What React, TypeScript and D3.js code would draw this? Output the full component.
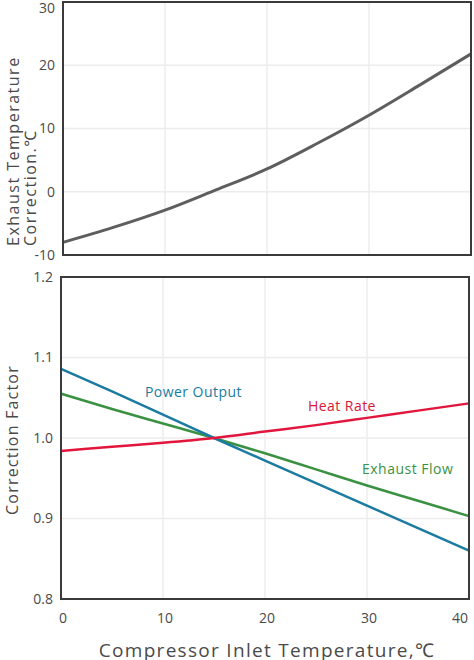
import React from "react";
import * as d3 from "d3";

const temps = [0, 5, 10, 15, 20, 25, 30, 35, 40];
const exhaustTempCorr = [-8.0, -5.6, -2.9, 0.3, 3.6, 7.7, 12.1, 16.9, 21.8];
const powerOutput = [1.086, 1.058, 1.029, 1.0, 0.972, 0.944, 0.916, 0.888, 0.86];
const exhaustFlow = [1.055, 1.036, 1.018, 1.0, 0.981, 0.961, 0.941, 0.922, 0.903];
const heatRate = [0.984, 0.989, 0.994, 1.0, 1.008, 1.016, 1.025, 1.034, 1.043];

const xTicks = [0, 10, 20, 30, 40];
const topYTicks = [-10, 0, 10, 20, 30];
const botYTicks = [0.8, 0.9, 1.0, 1.1, 1.2];

const FONT = "'Open Sans', 'Noto Sans', 'Noto Sans CJK JP', sans-serif";
const TXT = "#4a4a4a";
const GRID = "#ececec";
const BORDER = "#3a3a3a";

export default function App() {
  const xTop = d3.scaleLinear().domain([0, 40]).range([63, 471]);
  const yTop = d3.scaleLinear().domain([-10, 30]).range([255, 2]);
  const xBot = d3.scaleLinear().domain([0, 40]).range([61, 469]);
  const yBot = d3.scaleLinear().domain([0.8, 1.2]).range([599, 277]);

  const lineTop = d3
    .line<number>()
    .x((_, i) => xTop(temps[i]))
    .y((d) => yTop(d))
    .curve(d3.curveMonotoneX);
  const lineBot = d3
    .line<number>()
    .x((_, i) => xBot(temps[i]))
    .y((d) => yBot(d))
    .curve(d3.curveMonotoneX);

  const series = [
    { vals: exhaustFlow, color: "#3b9142" },
    { vals: powerOutput, color: "#1b7ba1" },
    { vals: heatRate, color: "#e2163c" },
  ];

  return (
    <svg
      width={474}
      height={660}
      style={{ position: "absolute", left: 0, top: 0, fontFamily: FONT }}
    >
      <rect width={474} height={660} fill="#fff" />
      {/* Top chart grid */}
      {[10, 20, 30].map((t) => (
        <line key={"tv" + t} x1={xTop(t)} x2={xTop(t)} y1={yTop(30)} y2={yTop(-10)} stroke={GRID} strokeWidth={1.5} />
      ))}
      {[0, 10, 20].map((t) => (
        <line key={"th" + t} x1={xTop(0)} x2={xTop(40)} y1={yTop(t)} y2={yTop(t)} stroke={GRID} strokeWidth={1.5} />
      ))}
      <path d={lineTop(exhaustTempCorr) || ""} fill="none" stroke="#5e5e5e" strokeWidth={3} />
      <rect x={xTop(0)} y={yTop(30)} width={xTop(40) - xTop(0)} height={yTop(-10) - yTop(30)} fill="none" stroke={BORDER} strokeWidth={2} />
      {topYTicks.map((t) => (
        <text key={"tyl" + t} x={55} y={t === 30 ? yTop(t) + 6 : yTop(t)} dy="0.35em" textAnchor="end" fontSize={14} fill={TXT}>
          {t}
        </text>
      ))}
      <text transform={`translate(13,246) rotate(-90)`} fontSize={16} fill={TXT} textAnchor="start" dy="0.35em" letterSpacing={1.5}>
        Exhaust Temperature
      </text>
      <text transform={`translate(30,246) rotate(-90)`} fontSize={16} fill={TXT} textAnchor="start" dy="0.35em" letterSpacing={1.5}>
        Correction.℃
      </text>

      {/* Bottom chart grid */}
      {[10, 20, 30].map((t) => (
        <line key={"bv" + t} x1={xBot(t)} x2={xBot(t)} y1={yBot(1.2)} y2={yBot(0.8)} stroke={GRID} strokeWidth={1.5} />
      ))}
      {[0.9, 1.0, 1.1].map((t) => (
        <line key={"bh" + t} x1={xBot(0)} x2={xBot(40)} y1={yBot(t)} y2={yBot(t)} stroke={GRID} strokeWidth={1.5} />
      ))}
      {series.map((s, i) => (
        <path key={"s" + i} d={lineBot(s.vals) || ""} fill="none" stroke={s.color} strokeWidth={2.5} />
      ))}
      <rect x={xBot(0)} y={yBot(1.2)} width={xBot(40) - xBot(0)} height={yBot(0.8) - yBot(1.2)} fill="none" stroke={BORDER} strokeWidth={2} />
      {botYTicks.map((t) => (
        <text key={"byl" + t} x={53} y={yBot(t)} dy="0.35em" textAnchor="end" fontSize={14} fill={TXT}>
          {d3.format(".1f")(t)}
        </text>
      ))}
      {xTicks.map((t) => (
        <text key={"bxl" + t} x={t === 40 ? xBot(t) - 1 : xBot(t) + 2} y={618} dy="0.35em" textAnchor={t === 40 ? "end" : "middle"} fontSize={14} fill={TXT}>
          {t}
        </text>
      ))}
      <text transform={`translate(12,440) rotate(-90)`} fontSize={16} fill={TXT} textAnchor="middle" dy="0.35em" letterSpacing={1.2}>
        Correction Factor
      </text>
      <text x={267} y={650} dy="0.35em" fontSize={19} fill={TXT} textAnchor="middle" letterSpacing={1.3}>
        Compressor Inlet Temperature,℃
      </text>

      <text x={145} y={392} dy="0.35em" fontSize={14} fill="#1b7ba1" letterSpacing={0.45}>Power Output</text>
      <text x={308} y={406} dy="0.35em" fontSize={14} fill="#d8163a" letterSpacing={0.45}>Heat Rate</text>
      <text x={362} y={469} dy="0.35em" fontSize={14} fill="#3b9142" letterSpacing={0.5}>Exhaust Flow</text>
    </svg>
  );
}
